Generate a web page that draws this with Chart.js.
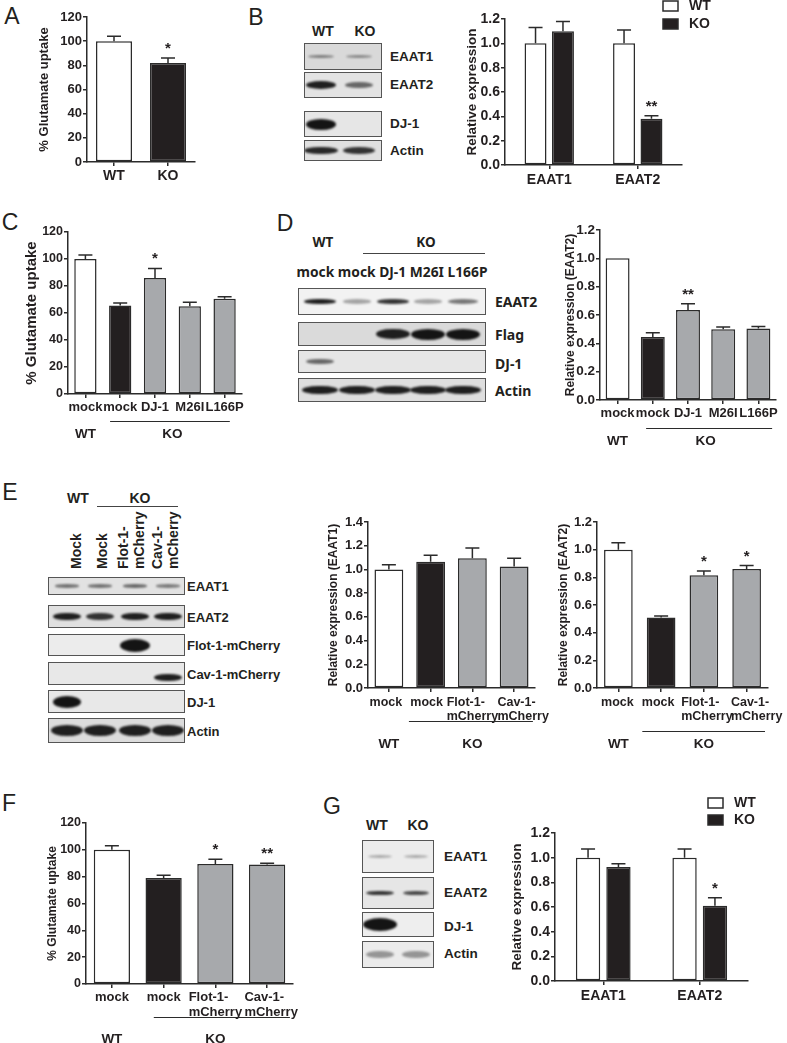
<!DOCTYPE html>
<html>
<head>
<meta charset="utf-8">
<script src="https://cdn.jsdelivr.net/npm/chart.js@4.4.1/dist/chart.umd.min.js"></script>
<style>
body{margin:0;background:#fff;}
#fig{position:relative;width:787px;height:1043px;overflow:hidden;font-family:'Liberation Sans',Arial,sans-serif;color:#231f20;}
.t{position:absolute;white-space:nowrap;font-weight:bold;}
.blot{position:absolute;border:1px solid #555;box-sizing:border-box;overflow:hidden;}
.band{position:absolute;border-radius:50%;filter:blur(1.2px);}
.hl{position:absolute;border-top:1px solid #444;height:0;}
canvas{position:absolute;}
</style>
</head>
<body>
<div id="fig"></div>
<script>
/* ---------- data ---------- */
// A: glutamate uptake
const aCats = ['WT', 'KO'];
const aVals = [100, 82];
const aSem  = [4, 4];
const aSig  = ['', '*'];

// B: EAAT1/EAAT2 expression
const bCats   = ['EAAT1', 'EAAT2'];
const bWT     = [1.0, 1.0];
const bWTSem  = [0.13, 0.11];
const bKO     = [1.10, 0.38];
const bKOSem  = [0.08, 0.025];
const bKOSig  = ['', '**'];

// C: uptake, DJ-1 rescue
const cCats = ['mock', 'mock', 'DJ-1', 'M26I', 'L166P'];
const cVals = [100, 65.5, 86, 65, 70.5];
const cSem  = [3, 2, 7, 3, 1.5];
const cSig  = ['', '', '*', '', ''];

// D: EAAT2, DJ-1 rescue
const dVals = [1.0, 0.445, 0.635, 0.50, 0.505];
const dSem  = [0, 0.03, 0.045, 0.015, 0.013];
const dSig  = ['', '', '**', '', ''];

// E: Flot-1 / Cav-1 rescue
const eCats  = ['mock', 'mock', ['Flot-1-', 'mCherry'], ['Cav-1-', 'mCherry']];
const e1Vals = [1.0, 1.065, 1.095, 1.025];
const e1Sem  = [0.04, 0.055, 0.085, 0.07];
const e2Vals = [1.0, 0.51, 0.815, 0.86];
const e2Sem  = [0.05, 0.01, 0.03, 0.025];
const e2Sig  = ['', '', '*', '*'];

// F: uptake, Flot-1 / Cav-1 rescue
const fVals = [100, 79, 89.5, 89];
const fSem  = [3, 2, 3.5, 1];
const fSig  = ['', '', '*', '**'];

// G: EAAT1/EAAT2 expression (second set)
const gWT    = [1.0, 1.0];
const gWTSem = [0.07, 0.07];
const gKO    = [0.925, 0.61];
const gKOSem = [0.025, 0.065];
const gKOSig = ['', '*'];

// blots: band intensity per row, per lane
const bBlotRows = ['EAAT1', 'EAAT2', 'DJ-1', 'Actin'];
const bBand = [[0.45, 0.4], [0.95, 0.6], [1, 0], [0.9, 0.85]];
const dBlotRows = ['EAAT2', 'Flag', 'DJ-1', 'Actin'];
const dBand = [[0.95, 0.35, 0.85, 0.35, 0.55], [0, 0, 0.95, 1, 1], [0.6, 0, 0, 0, 0], [0.95, 0.95, 0.95, 0.95, 0.95]];
const eBlotRows = ['EAAT1', 'EAAT2', 'Flot-1-mCherry', 'Cav-1-mCherry', 'DJ-1', 'Actin'];
const eBand = [[0.55, 0.55, 0.6, 0.5], [0.95, 0.85, 0.95, 0.95], [0, 0, 1, 0], [0, 0, 0, 0.95], [1, 0, 0, 0], [0.95, 0.95, 0.95, 0.95]];
const gBlotRows = ['EAAT1', 'EAAT2', 'DJ-1', 'Actin'];
const gBand = [[0.3, 0.3], [0.85, 0.75], [1, 0], [0.4, 0.4]];

/* ---------- style ---------- */
const FAM = "'Liberation Sans', Arial, sans-serif";
const KFAM = "'Noto Sans', 'Liberation Sans', sans-serif";
const INK = '#231f20', LINE = '#2b2b2b';
const WHITE = '#ffffff', BLACK = '#231f20', GREY = '#a7a9ac';
const fig = document.getElementById('fig');

/* ---------- html helpers ---------- */
function label(s, x, y, size, o = {}) {
  const d = document.createElement('div');
  d.className = 't';
  d.textContent = s;
  d.style.fontSize = size + 'px';
  d.style.lineHeight = size + 'px';
  d.style.left = x + 'px';
  d.style.top = (y - size / 2) + 'px';
  if (!o.left) d.style.transform = 'translateX(-50%)';
  if (o.family) d.style.fontFamily = o.family;
  if (o.normal) d.style.fontWeight = 'normal';
  fig.appendChild(d);
  return d;
}
function vlabel(s, cx, bottom, size) {
  const d = label(s, 0, 0, size, {left: true});
  d.style.left = (cx - size / 2) + 'px';
  d.style.top = bottom + 'px';
  d.style.transformOrigin = '0 0';
  d.style.transform = 'rotate(-90deg)';
}
function hline(x0, x1, y) {
  const d = document.createElement('div');
  d.className = 'hl';
  Object.assign(d.style, {left: x0 + 'px', top: y + 'px', width: (x1 - x0) + 'px'});
  fig.appendChild(d);
}
function blot(x0, x1, lanes, rows) {
  rows.forEach(r => {
    const d = document.createElement('div');
    d.className = 'blot';
    const rh = r.y1 - r.y0;
    Object.assign(d.style, {left: x0 + 'px', top: r.y0 + 'px', width: (x1 - x0) + 'px', height: rh + 'px', background: r.bg});
    r.bands.forEach((v, i) => {
      if (!v) return;
      const b = document.createElement('div');
      b.className = 'band';
      const w = r.w * (0.8 + 0.2 * v), h = r.h * (0.6 + 0.4 * v);
      Object.assign(b.style, {
        left: (lanes[i] - x0 - w / 2 - 1) + 'px',
        top: (rh / 2 - h / 2 - 1 + (r.dy || 0)) + 'px',
        width: w + 'px', height: h + 'px',
        background: `rgba(20,20,20,${v})`
      });
      d.appendChild(b);
    });
    fig.appendChild(d);
  });
}

/* ---------- chart plugin: error bars, stars, groups, legend ---------- */
const decor = {
  id: 'decor',
  afterDatasetsDraw(chart, args, o) {
    const {ctx, chartArea: area, scales: {x, y}} = chart;
    ctx.save();
    ctx.strokeStyle = LINE;
    ctx.fillStyle = INK;
    chart.data.datasets.forEach((ds, di) => {
      const sem = o.sems[di] || [], sig = o.sigs[di] || [];
      chart.getDatasetMeta(di).data.forEach((bar, i) => {
        const top = y.getPixelForValue(ds.data[i] + (sem[i] || 0));
        if (sem[i]) {
          const cap = Math.min(7, bar.width * 0.32);
          ctx.lineWidth = 1.5;
          ctx.beginPath();
          ctx.moveTo(bar.x, bar.y); ctx.lineTo(bar.x, top);
          ctx.moveTo(bar.x - cap, top); ctx.lineTo(bar.x + cap, top);
          ctx.stroke();
        }
        if (sig[i]) {
          ctx.font = `bold 15px ${FAM}`;
          ctx.textAlign = 'center';
          ctx.textBaseline = 'alphabetic';
          ctx.fillText(sig[i], bar.x, top - 5);
        }
      });
    });
    // hand-placed category labels (left-aligned blocks centred on the bar)
    if (o.xl) {
      ctx.font = `bold ${o.xl.size}px ${FAM}`;
      ctx.textAlign = 'left';
      ctx.textBaseline = 'middle';
      chart.data.labels.forEach((lab, i) => {
        const lines = [].concat(lab);
        const bw = Math.max(...lines.map(s => ctx.measureText(s).width));
        const left = x.getPixelForValue(i) - bw / 2 + o.xl.dx[i];
        lines.forEach((s, k) => ctx.fillText(s, left, area.bottom + o.xl.dy + k * o.xl.lh));
      });
    }
    const cw = x.width / chart.data.labels.length;
    (o.groups || []).forEach(g => {
      const a = x.getPixelForValue(g.from), b = x.getPixelForValue(g.to);
      ctx.font = `bold 13.5px ${FAM}`;
      ctx.textAlign = 'center';
      ctx.textBaseline = 'middle';
      ctx.fillText(g.text, (a + b) / 2, area.bottom + g.textDy);
      if (g.line) {
        ctx.lineWidth = 1;
        ctx.beginPath();
        ctx.moveTo(a - g.ext[0] * cw, area.bottom + g.lineDy + 0.5);
        ctx.lineTo(b + g.ext[1] * cw, area.bottom + g.lineDy + 0.5);
        ctx.stroke();
      }
    });
    if (o.legend) {
      chart.data.datasets.forEach((ds, di) => {
        const lx = o.legend.x, ly = o.legend.y + di * o.legend.gap;
        ctx.fillStyle = ds.backgroundColor;
        ctx.fillRect(lx, ly, 15, 10);
        ctx.lineWidth = 1.5;
        ctx.strokeRect(lx, ly, 15, 10);
        ctx.fillStyle = INK;
        ctx.font = `bold 14px ${FAM}`;
        ctx.textAlign = 'left';
        ctx.textBaseline = 'middle';
        ctx.fillText(ds.label, lx + 26, ly + 5.5);
      });
    }
    ctx.restore();
  }
};

function barChart(o) {
  const c = document.createElement('canvas');
  c.width = o.w; c.height = o.h;
  c.style.left = o.x + 'px'; c.style.top = o.y + 'px';
  fig.appendChild(c);
  const grid = {display: true, drawOnChartArea: false, drawTicks: true, tickLength: 4, color: LINE, lineWidth: 1.5};
  const border = {display: true, color: LINE, width: 1.5};
  return new Chart(c, {
    type: 'bar',
    data: {
      labels: o.labels,
      datasets: o.sets.map(s => ({
        label: s.label, data: s.data, backgroundColor: s.color,
        borderColor: LINE, borderWidth: 1.5, borderSkipped: false,
        barPercentage: o.barPct, categoryPercentage: o.catPct
      }))
    },
    options: {
      responsive: false, animation: false, devicePixelRatio: 1,
      layout: {padding: {top: o.padTop, right: o.padRight, left: 0, bottom: 0}},
      plugins: {
        legend: {display: false}, tooltip: {enabled: false},
        decor: {sems: o.sets.map(s => s.sem), sigs: o.sets.map(s => s.sig || []),
                groups: o.groups, legend: o.legend, xl: o.xl}
      },
      scales: {
        x: {
          offset: true, grid: {...grid, offset: false}, border,
          ticks: {display: !o.xl, color: INK, autoSkip: false, maxRotation: 0, padding: o.xPad,
                  font: {family: FAM, weight: 'bold', size: o.xSize || 13, lineHeight: 1.1}},
          afterFit: s => { s.height = o.xh; }
        },
        y: {
          min: 0, max: o.max, grid, border,
          ticks: {stepSize: o.step, color: INK, padding: 1,
                  font: {family: FAM, weight: 'bold', size: o.tick || 13},
                  callback: v => Number(v).toFixed(o.dec)},
          title: {display: true, text: o.title, color: INK, padding: 0,
                  font: {family: FAM, weight: 'bold', size: o.titleSize}},
          afterFit: s => { s.width = o.yw; }
        }
      }
    },
    plugins: [decor]
  });
}

const koGroups = (n, lineDy, textDy, ext) => [
  {text: 'WT', from: 0, to: 0, textDy},
  {text: 'KO', from: 1, to: n - 1, textDy, line: true, lineDy, ext}
];

/* ---------- panel letters ---------- */
[['A', 12, 16], ['B', 256, 17], ['C', 10, 222], ['D', 285, 223], ['E', 10, 492], ['F', 9, 803], ['G', 332, 806]]
  .forEach(([s, x, y]) => label(s, x, y, 23, {normal: true}));

/* ---------- A ---------- */
barChart({x: 37, y: 0, w: 163, h: 190, padTop: 17, padRight: 5, yw: 50, xh: 28, xPad: 2, xSize: 14,
  max: 120, step: 20, dec: 0, title: '% Glutamate uptake', titleSize: 13,
  labels: aCats, barPct: 0.667, catPct: 1,
  sets: [{label: 'uptake', data: aVals, color: [WHITE, BLACK], sem: aSem, sig: aSig}]});

/* ---------- B ---------- */
label('WT', 323, 31, 14); label('KO', 365, 31, 14);
blot(304, 382, [321, 359], [
  {y0: 43, y1: 70, bg: '#d9d9d9', h: 5, w: 30, bands: bBand[0]},
  {y0: 72, y1: 98, bg: '#e3e3e3', h: 8, w: 30, bands: bBand[1]},
  {y0: 111, y1: 137, bg: '#e6e6e6', h: 11, w: 30, bands: bBand[2]},
  {y0: 140, y1: 161, bg: '#e0e0e0', h: 8, w: 34, bands: bBand[3]}
]);
[57, 85, 124, 151].forEach((y, i) => label(bBlotRows[i], 390, y, 13.5, {left: true}));
barChart({x: 464, y: 0, w: 323, h: 195, padTop: 19, padRight: 105, yw: 41, xh: 30, xPad: 3, xSize: 14, tick: 14,
  max: 1.2, step: 0.2, dec: 1, title: 'Relative expression', titleSize: 13.5,
  labels: bCats, barPct: 0.8, catPct: 0.62,
  legend: {x: 199, y: 1, gap: 18},
  sets: [{label: 'WT', data: bWT, color: WHITE, sem: bWTSem},
         {label: 'KO', data: bKO, color: BLACK, sem: bKOSem, sig: bKOSig}]});

/* ---------- C ---------- */
barChart({x: 23, y: 210, w: 227, h: 235, padTop: 22, padRight: 8, yw: 45, xh: 51, xPad: 2,
  max: 120, step: 20, dec: 0, title: '% Glutamate uptake', titleSize: 15, tick: 12.5,
  labels: cCats, barPct: 0.64, catPct: 1,
  groups: koGroups(5, 27, 40, [0.29, 0.15]),
  sets: [{label: 'uptake', data: cVals, color: [WHITE, BLACK, GREY, GREY, GREY], sem: cSem, sig: cSig}]});

/* ---------- D ---------- */
label('WT', 323, 243, 13.5, {family: KFAM}); label('KO', 426, 243, 13.5, {family: KFAM});
hline(363, 485, 253);
label('mock mock DJ-1 M26I L166P', 392, 272, 13.8, {family: KFAM});
blot(298, 486, [320, 357, 393, 428, 463], [
  {y0: 288, y1: 315, bg: '#f2f2f2', h: 6, w: 32, bands: dBand[0]},
  {y0: 322, y1: 346, bg: '#dadada', h: 11, w: 34, bands: dBand[1]},
  {y0: 350, y1: 373, bg: '#e6e6e6', h: 7, w: 30, bands: dBand[2]},
  {y0: 378, y1: 402, bg: '#dedede', h: 9, w: 36, bands: dBand[3]}
]);
[302, 335, 364, 391].forEach((y, i) => label(dBlotRows[i], 495, y, 14, {left: true, family: KFAM}));
barChart({x: 563, y: 215, w: 224, h: 235, padTop: 15, padRight: 11, yw: 37, xh: 50, xPad: 2, tick: 13.5,
  max: 1.2, step: 0.2, dec: 1, title: 'Relative expression (EAAT2)', titleSize: 12,
  labels: cCats, barPct: 0.68, catPct: 1,
  groups: koGroups(5, 28, 41, [0.19, 0.39]),
  sets: [{label: 'EAAT2', data: dVals, color: [WHITE, BLACK, GREY, GREY, GREY], sem: dSem, sig: dSig}]});

/* ---------- E ---------- */
label('WT', 78, 498, 14); label('KO', 140, 498, 14);
hline(97, 178, 506);
vlabel('Mock', 76, 569, 14);
vlabel('Mock', 102, 569, 14);
vlabel('Flot-1-', 123, 569, 14); vlabel('mCherry', 139, 569, 14);
vlabel('Cav-1-', 157, 569, 14); vlabel('mCherry', 173, 569, 14);
blot(48, 185, [67, 100, 135, 168], [
  {y0: 577, y1: 595, bg: '#e2e2e2', h: 4, w: 26, bands: eBand[0]},
  {y0: 605, y1: 628, bg: '#e0e0e0', h: 8, w: 28, bands: eBand[1]},
  {y0: 634, y1: 656, bg: '#ececec', h: 13, w: 30, bands: eBand[2]},
  {y0: 662, y1: 685, bg: '#e8e8e8', h: 8, w: 28, dy: 4, bands: eBand[3]},
  {y0: 690, y1: 713, bg: '#e8e8e8', h: 12, w: 28, bands: eBand[4]},
  {y0: 718, y1: 743, bg: '#dcdcdc', h: 11, w: 32, bands: eBand[5]}
]);
[586, 617, 645, 674, 702, 731].forEach((y, i) => label(eBlotRows[i], 187, y, 13, {left: true}));
barChart({x: 326, y: 505, w: 234, h: 250, padTop: 17, padRight: 25, yw: 42, xh: 67,
  max: 1.4, step: 0.2, dec: 1, title: 'Relative expression (EAAT1)', titleSize: 12,
  labels: eCats, barPct: 0.69, catPct: 1,
  xl: {size: 12.5, dy: 15, lh: 14, dx: [-3, -4, 0, 9]},
  groups: koGroups(4, 33, 56, [0.52, 0.45]),
  sets: [{label: 'EAAT1', data: e1Vals, color: [WHITE, BLACK, GREY, GREY], sem: e1Sem}]});
barChart({x: 556, y: 505, w: 231, h: 250, padTop: 17, padRight: 19, yw: 41, xh: 67,
  max: 1.2, step: 0.2, dec: 1, title: 'Relative expression (EAAT2)', titleSize: 12,
  labels: eCats, barPct: 0.67, catPct: 1,
  xl: {size: 12.5, dy: 15, lh: 14, dx: [-1, -3, 3, 10]},
  groups: koGroups(4, 43, 56, [0.44, 0.43]),
  sets: [{label: 'EAAT2', data: e2Vals, color: [WHITE, BLACK, GREY, GREY], sem: e2Sem, sig: e2Sig}]});

/* ---------- F ---------- */
barChart({x: 45, y: 800, w: 255, h: 243, padTop: 23, padRight: 7, yw: 41, xh: 59,
  max: 120, step: 20, dec: 0, title: '% Glutamate uptake', titleSize: 12, tick: 12.5,
  labels: eCats, barPct: 0.7, catPct: 1,
  xl: {size: 13, dy: 13, lh: 15, dx: [0, 0, 0, 4]},
  groups: koGroups(4, 33, 55, [0.19, 0.44]),
  sets: [{label: 'uptake', data: fVals, color: [WHITE, BLACK, GREY, GREY], sem: fSem, sig: fSig}]});

/* ---------- G ---------- */
label('WT', 377, 825, 14); label('KO', 418, 825, 14);
blot(362, 434, [380, 416], [
  {y0: 840, y1: 873, bg: '#ececec', h: 4, w: 28, bands: gBand[0]},
  {y0: 877, y1: 909, bg: '#e6e6e6', h: 5, w: 28, bands: gBand[1]},
  {y0: 912, y1: 937, bg: '#eeeeee', h: 13, w: 34, bands: gBand[2]},
  {y0: 941, y1: 968, bg: '#ebebeb', h: 10, w: 32, bands: gBand[3]}
]);
[857, 893, 927, 954].forEach((y, i) => label(gBlotRows[i], 444, y, 13.5, {left: true}));
barChart({x: 509, y: 790, w: 278, h: 220, padTop: 43, padRight: 39, yw: 46, xh: 29, xPad: 3, xSize: 14, tick: 14,
  max: 1.2, step: 0.2, dec: 1, title: 'Relative expression', titleSize: 13.5,
  labels: bCats, barPct: 0.8, catPct: 0.63,
  legend: {x: 199, y: 8, gap: 17},
  sets: [{label: 'WT', data: gWT, color: WHITE, sem: gWTSem},
         {label: 'KO', data: gKO, color: BLACK, sem: gKOSem, sig: gKOSig}]});
</script>
</body>
</html>
